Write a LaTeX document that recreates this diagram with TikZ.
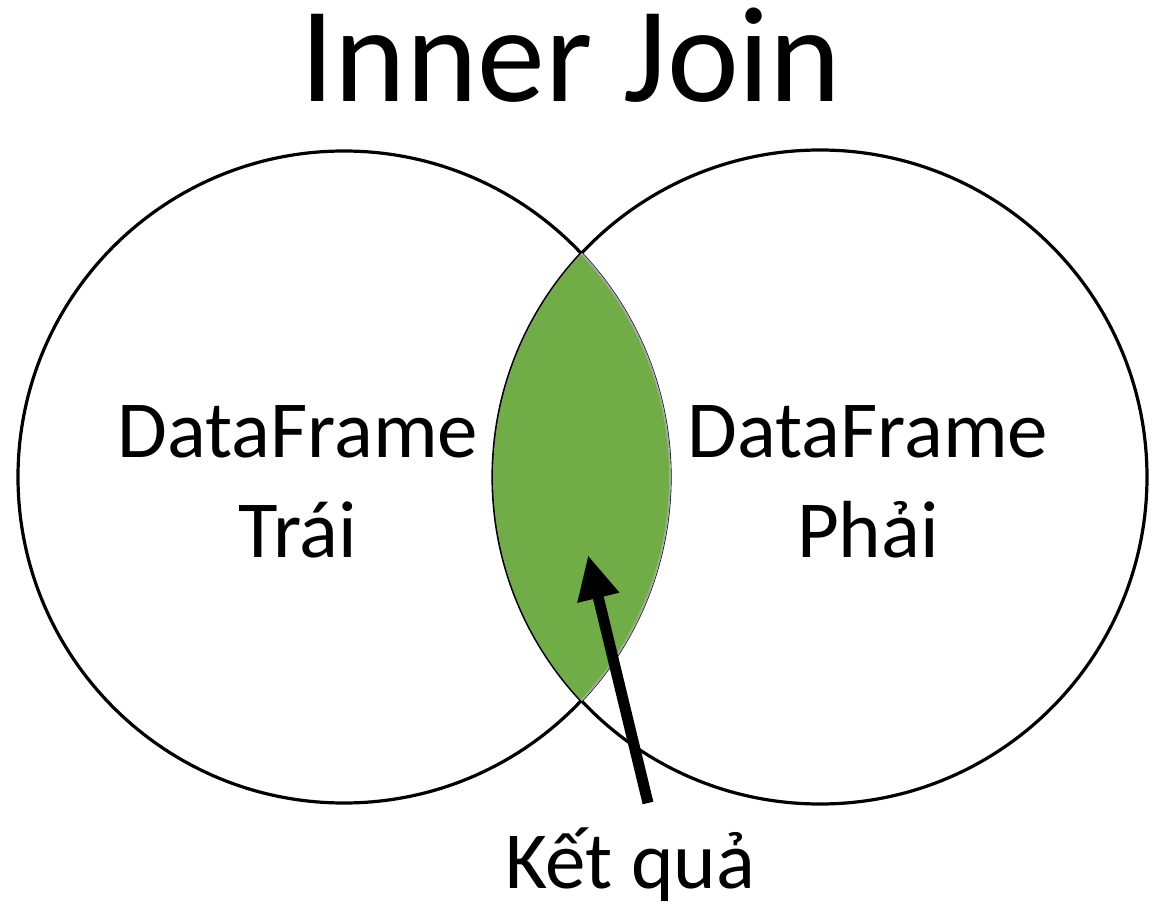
\documentclass[tikz,border=0pt]{standalone}
\usepackage{fontspec}
\setmainfont{Carlito}
\usetikzlibrary{arrows.meta, positioning}
\usepackage{xcolor}
\definecolor{lensgreen}{HTML}{70AD47}
\definecolor{edgegray}{HTML}{A6A6A6}

\begin{document}
\begin{tikzpicture}[
    x=1pt, y=-1pt,
    every node/.style={font=\fontsize{81}{95}\selectfont, inner sep=0pt},
    set/.style={circle, draw, line width=3.2pt, minimum size=652pt},
    lbl/.style={anchor=base},
    arr/.style={-{Triangle[length=44pt, width=40pt]}, line width=11pt}
]
    \useasboundingbox (0,0) rectangle (1165,912);
    \node[lbl, font=\fontsize{136}{150}\selectfont] (title) at (571,102) {Inner Join};
    \node[set] (left) at (344,477) {};
    \node[set, minimum size=654pt] (right) at (820,477) {};
    % the overlap
    \begin{scope}
        \clip (left.center) circle[radius=326];
        \fill[lensgreen] (right.center) circle[radius=327];
    \end{scope}
    \begin{scope}
        \clip (right.center) circle[radius=327];
        \draw[edgegray, line width=2pt] (left.center) circle[radius=326];
    \end{scope}
    \node[lbl] (ldf) at (298,457) {DataFrame};
    \node[lbl] (ltr) at (298,557) {Trái};
    \node[lbl] (rdf) at (868,457) {DataFrame};
    \node[lbl] (rph) at (868,557) {Phải};
    \node[lbl] (res) at (630,888) {Kết quả};
    \coordinate (tail) at (648,803);
    \coordinate (tip) at (588,555);
    \draw[arr] (tail) -- (tip);
\end{tikzpicture}
\end{document}
